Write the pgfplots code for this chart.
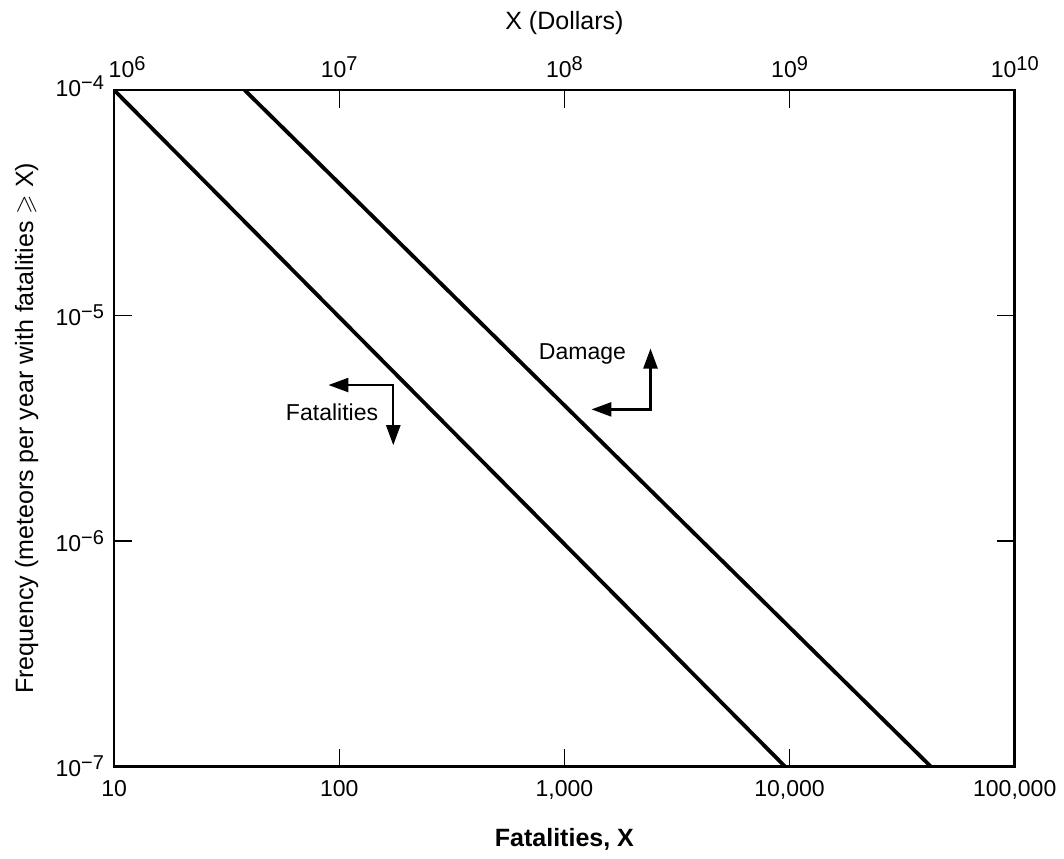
\documentclass[border=0pt]{standalone}
\usepackage{fontspec}
\setmainfont{Liberation Sans}
\usepackage{amssymb}
\usepackage{pgfplots}
\pgfplotsset{compat=1.18}
\usetikzlibrary{arrows.meta}

% power of ten with a large superscript, as in the drawing
\newcommand{\tenp}[1]{10\raisebox{0.6ex}{\fontsize{10}{11}\selectfont #1}}

\begin{document}
\fontsize{11.5}{13.5}\selectfont
\begin{tikzpicture}
% bottom / left / right: fatalities vs frequency
\begin{axis}[
    name=main,
    width=450pt, height=338pt, scale only axis,
    xmode=log, ymode=log,
    xmin=10, xmax=100000,
    ymin=1e-7, ymax=1e-4,
    xtick={10,100,1000,10000,100000},
    xticklabels={10,100,{1,000},{10,000},{100,000}},
    ytick={1e-7,1e-6,1e-5,1e-4},
    yticklabels={\tenp{−7},\tenp{−6},\tenp{−5},\raisebox{4pt}{\tenp{−4}}},
    xticklabel pos=lower,
    yticklabel pos=left,
    xticklabel style={yshift=-3pt},
    yticklabel style={xshift=-1pt},
    minor tick length=0pt,
    major tick length=9pt,
    tick style={line width=0.6pt, black},
    axis line style={line width=1.4pt},
    xlabel={\fontsize{12.5}{14}\selectfont\bfseries Fatalities, X},
    ylabel={Frequency (meteors per year with fatalities $\geqslant$ X)},
    xlabel style={at={(axis description cs:0.5,-0.108)}, anchor=center},
    ylabel style={at={(axis description cs:-0.097,0.5)}, anchor=center,
                  font=\fontsize{12.5}{14}\selectfont},
]
\addplot[black, line width=1.9pt] coordinates {(10,1e-4) (9550,1e-7)};
\addplot[black, line width=1.9pt] coordinates {(38,1e-4) (42400,1e-7)};

\draw[line width=1.2pt, {Triangle[length=10pt,width=7pt]}-{Triangle[length=10pt,width=7pt]}]
    (rel axis cs:0.238,0.564) -- (rel axis cs:0.31,0.564) -- (rel axis cs:0.31,0.475);
\node at (rel axis cs:0.242,0.524) {Fatalities};

\draw[line width=1.2pt, {Triangle[length=10pt,width=7pt]}-{Triangle[length=10pt,width=7pt]}]
    (rel axis cs:0.530,0.528) -- (rel axis cs:0.5956,0.528) -- (rel axis cs:0.5956,0.618);
\node at (rel axis cs:0.520,0.610) {Damage};
\end{axis}

% top: dollars
\begin{axis}[
    width=450pt, height=338pt, scale only axis,
    xmode=log,
    xmin=1e6, xmax=1e10,
    ymin=0, ymax=1,
    axis x line*=top,
    axis y line=none,
    xtick={1e6,1e7,1e8,1e9,1e10},
    xticklabels={\hspace*{13pt}\tenp{6},\tenp{7},\tenp{8},\tenp{9},\tenp{10}},
    xticklabel style={yshift=2pt},
    xtick style={draw=none},
    minor tick length=0pt,
    axis line style={line width=1.4pt},
    xlabel={X (Dollars)},
    xlabel style={at={(axis description cs:0.5,1.099)}, anchor=center,
                  font=\fontsize{12.5}{14}\selectfont},
]
\end{axis}

\path (main.south west) ++(-57pt,-44pt) coordinate (bl);
\path (main.north east) ++(24.5pt,45pt) coordinate (tr);
\path (bl) rectangle (tr);
\end{tikzpicture}
\end{document}
